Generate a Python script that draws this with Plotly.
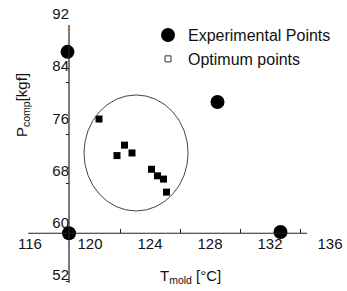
import plotly.graph_objects as go

# ---- data ----
exp_T = [118.5, 128.5, 118.6, 132.7]
exp_P = [86.2, 78.5, 58.4, 58.6]

opt_T = [120.6, 122.3, 121.8, 122.8, 124.1, 124.5, 124.9, 125.1]
opt_P = [75.9, 71.9, 70.3, 70.7, 68.2, 67.2, 66.7, 64.7]

# optimum region ellipse (centre, half-widths)
ell_center = [123.07, 70.7]
ell_radius = [3.47, 8.89]

x_ticks = [116, 120, 124, 128, 132, 136]
y_ticks = [92, 84, 76, 68, 60, 52]
x_minor = [122, 126, 130, 134]
y_minor = [81.5, 73.5, 66.0, 51.0]

# axes geometry (crossing point and extents)
x_cross = 118.6   # T where the P axis is drawn
y_cross = 58.4    # P where the T axis is drawn
x_line = [115.87, 134.47]
y_line = [90.3, 50.8]

x_range = [114.667, 137.0]
y_range = [50.16, 93.53]

FONT = "Liberation Sans, Arial, Helvetica, sans-serif"
W, H = 347, 291
ml, mr, mt, mb = 10, 2, 4, 4

fig = go.Figure()

fig.add_trace(go.Scatter(
    x=exp_T, y=exp_P, mode="markers", name="Experimental Points",
    marker=dict(symbol="circle", size=14, color="black"),
))
fig.add_trace(go.Scatter(
    x=opt_T, y=opt_P, mode="markers", showlegend=False,
    marker=dict(symbol="square", size=7, color="black"),
))
fig.add_trace(go.Scatter(
    x=[None], y=[None], mode="markers", name="Optimum points",
    marker=dict(symbol="square-open", size=6, color="#333",
                line=dict(width=1)),
))

fig.add_shape(type="circle", xref="x", yref="y",
              x0=ell_center[0] - ell_radius[0], x1=ell_center[0] + ell_radius[0],
              y0=ell_center[1] - ell_radius[1], y1=ell_center[1] + ell_radius[1],
              line=dict(color="#444", width=1))

# axis lines
fig.add_shape(type="line", xref="x", yref="y",
              x0=x_line[0], x1=x_line[1], y0=y_cross, y1=y_cross,
              line=dict(color="#222", width=1.2))
fig.add_shape(type="line", xref="x", yref="y",
              x0=x_cross, x1=x_cross, y0=y_line[0], y1=y_line[1],
              line=dict(color="#222", width=1.2))

pw = W - ml - mr
ph = H - mt - mb
ypos = (y_cross - y_range[0]) / (y_range[1] - y_range[0])
xpos = (x_cross - x_range[0]) / (x_range[1] - x_range[0])

fig.update_layout(
    width=W, height=H,
    margin=dict(l=ml, r=mr, t=mt, b=mb),
    paper_bgcolor="white", plot_bgcolor="white",
    font=dict(family=FONT, size=15, color="#111"),
    xaxis=dict(range=x_range, anchor="free", position=ypos,
               showgrid=False, zeroline=False, showline=False,
               tickmode="array", tickvals=x_ticks, ticktext=[str(v) for v in x_ticks],
               ticks="", tickfont=dict(size=15, family=FONT, color="#111"),
               minor=dict(tickmode="array", tickvals=x_minor, ticks="inside",
                          ticklen=4, tickcolor="#222")),
    yaxis=dict(range=y_range, anchor="free", position=xpos,
               showgrid=False, zeroline=False, showline=False,
               tickmode="array", tickvals=y_ticks, ticktext=[str(v) for v in y_ticks],
               ticks="", tickfont=dict(size=15, family=FONT, color="#111"),
               minor=dict(tickmode="array", tickvals=y_minor, ticks="outside",
                          ticklen=3, tickcolor="#222")),
    legend=dict(x=0.412, y=0.95, xanchor="left", yanchor="top",
                bgcolor="rgba(0,0,0,0)", font=dict(size=16, family=FONT, color="#111"),
                tracegroupgap=0, itemsizing="trace"),
    showlegend=True,
)

fig.add_annotation(text="P<sub>comp</sub>[kgf]", xref="paper", yref="paper",
                   x=(22 - ml) / pw, y=(H - mb - 105) / ph, textangle=-90,
                   xanchor="center", yanchor="middle",
                   showarrow=False, font=dict(size=15, family=FONT, color="#111"))
fig.add_annotation(text="T<sub>mold</sub> [°C]", xref="paper", yref="paper",
                   x=(190 - ml) / pw, y=(H - mb - 276) / ph,
                   xanchor="center", yanchor="middle",
                   showarrow=False, font=dict(size=15, family=FONT, color="#111"))

fig.write_html("out.html", config={"displayModeBar": False},
               post_script="document.body.style.margin='0';")
